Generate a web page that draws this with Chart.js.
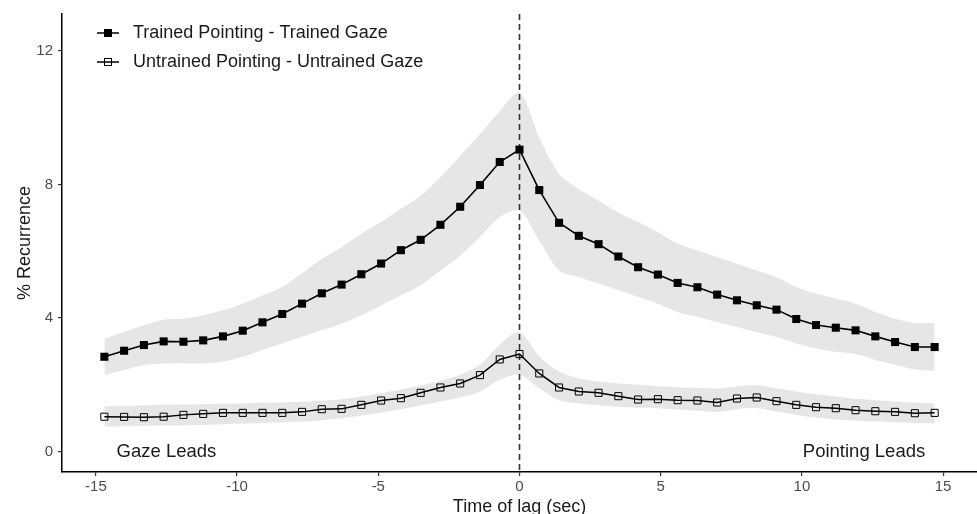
<!DOCTYPE html>
<html>
<head>
<meta charset="utf-8">
<script src="https://cdn.jsdelivr.net/npm/chart.js@4.4.1/dist/chart.umd.min.js"></script>
<style>
    html, body { margin: 0; padding: 0; background: #fff; }
    #wrap { width: 977px; height: 514px; }
</style>
</head>
<body>
<div id="wrap"><canvas id="lagChart" width="977" height="514"></canvas></div>
<script>
// lag (sec), one point every 0.7 s
const lags = [
    -14.7, -14, -13.3, -12.6, -11.9, -11.2, -10.5, -9.8, -9.1, -8.4, -7.7,
    -7, -6.3, -5.6, -4.9, -4.2, -3.5, -2.8, -2.1, -1.4, -0.7,
    0,
    0.7, 1.4, 2.1, 2.8, 3.5, 4.2, 4.9, 5.6, 6.3, 7, 7.7,
    8.4, 9.1, 9.8, 10.5, 11.2, 11.9, 12.6, 13.3, 14, 14.7,
];

const trained = [
    2.84, 3.02, 3.19, 3.30, 3.29, 3.33, 3.45, 3.62, 3.87, 4.12, 4.43,
    4.74, 5.00, 5.31, 5.63, 6.03, 6.34, 6.79, 7.33, 7.98, 8.67,
    9.04,
    7.83, 6.85, 6.46, 6.21, 5.84, 5.52, 5.30, 5.05, 4.92, 4.70,
    4.53, 4.38, 4.25, 3.97, 3.79, 3.71, 3.63, 3.45, 3.28, 3.13, 3.13,
];
const trainedUpper = [
    3.38, 3.58, 3.78, 3.95, 3.98, 4.08, 4.23, 4.43, 4.68, 4.93, 5.33,
    5.77, 6.12, 6.52, 6.87, 7.27, 7.66, 8.21, 8.86, 9.50, 10.20,
    10.75,
    9.40, 8.31, 7.86, 7.51, 7.16, 6.87, 6.57, 6.22, 6.02, 5.82,
    5.62, 5.42, 5.22, 4.93, 4.73, 4.58, 4.43, 4.18, 3.98, 3.85, 3.85,
];
const trainedLower = [
    2.29, 2.44, 2.59, 2.64, 2.64, 2.64, 2.69, 2.84, 3.04, 3.24, 3.43,
    3.63, 3.83, 4.08, 4.38, 4.68, 4.98, 5.42, 5.87, 6.42, 7.02,
    7.21,
    6.32, 5.42, 5.22, 5.03, 4.83, 4.63, 4.43, 4.18, 4.03, 3.88,
    3.73, 3.58, 3.43, 3.24, 3.09, 2.99, 2.92, 2.74, 2.59, 2.46, 2.42,
];

const untrained = [
    1.045, 1.04, 1.03, 1.045, 1.10, 1.13, 1.16, 1.16, 1.16, 1.16, 1.19,
    1.27, 1.28, 1.40, 1.53, 1.60, 1.76, 1.92, 2.04, 2.29, 2.76,
    2.92,
    2.34, 1.92, 1.80, 1.76, 1.66, 1.56, 1.57, 1.54, 1.53, 1.47,
    1.59, 1.62, 1.51, 1.40, 1.33, 1.30, 1.24, 1.21, 1.19, 1.15, 1.16,
];
const untrainedUpper = [
    1.36, 1.37, 1.38, 1.40, 1.41, 1.42, 1.43, 1.44, 1.46, 1.47, 1.49,
    1.52, 1.57, 1.65, 1.75, 1.86, 1.98, 2.12, 2.30, 2.60, 3.20,
    3.58,
    2.85, 2.40, 2.20, 2.10, 2.04, 2.00, 1.96, 1.93, 1.91, 1.89,
    1.95, 1.99, 1.90, 1.80, 1.72, 1.65, 1.58, 1.54, 1.50, 1.46, 1.44,
];
const untrainedLower = [
    0.75, 0.76, 0.77, 0.78, 0.79, 0.80, 0.82, 0.84, 0.86, 0.88, 0.90,
    0.94, 1.00, 1.08, 1.17, 1.27, 1.38, 1.50, 1.62, 1.80, 2.15,
    2.30,
    1.90, 1.54, 1.44, 1.39, 1.34, 1.31, 1.30, 1.26, 1.22, 1.19,
    1.27, 1.30, 1.20, 1.10, 1.02, 0.96, 0.93, 0.90, 0.88, 0.86, 0.85,
];

const seriesNames = ["Trained Pointing - Trained Gaze", "Untrained Pointing - Untrained Gaze"];
const xTicks = [-15, -10, -5, 0, 5, 10, 15];
const yTicks = [0, 4, 8, 12];
const sideLabels = ["Gaze Leads", "Pointing Leads"];

const FONT = "'Liberation Sans', Arial, sans-serif";
const BAND = "#e6e6e6";
const INK = "#000000";
const TICK_TEXT = "#4d4d4d";

const pts = (arr) => lags.map((x, i) => ({ x: x, y: arr[i] }));

function bandSet(arr, fill) {
    return {
        data: pts(arr),
        borderWidth: 0,
        pointRadius: 0,
        backgroundColor: BAND,
        fill: fill,
        order: 2,
        tension: 0.3,
    };
}

// ---- dashed zero line + in-plot labels + legend ----
const decorPlugin = {
    id: "decor",
    beforeDatasetsDraw(chart) {
        const { ctx, chartArea, scales } = chart;
        const x0 = scales.x.getPixelForValue(0);
        ctx.save();
        ctx.strokeStyle = "#333";
        ctx.lineWidth = 1.6;
        ctx.setLineDash([6, 4]);
        ctx.beginPath();
        ctx.moveTo(x0, chartArea.top);
        ctx.lineTo(x0, chartArea.bottom);
        ctx.stroke();
        ctx.restore();
    },
    afterDraw(chart) {
        const { ctx, chartArea, scales } = chart;
        ctx.save();
        ctx.fillStyle = "#1a1a1a";
        ctx.font = "18.5px " + FONT;
        ctx.textBaseline = "middle";
        ctx.textAlign = "center";
        ctx.fillText(sideLabels[0], scales.x.getPixelForValue(-12.5), scales.y.getPixelForValue(0));
        ctx.fillText(sideLabels[1], scales.x.getPixelForValue(12.2), scales.y.getPixelForValue(0));

        // legend
        ctx.font = "18px " + FONT;
        const lx = chartArea.left + 35;
        const ly = chartArea.top + 19;
        seriesNames.forEach((name, i) => {
            const y = ly + i * 29;
            ctx.strokeStyle = INK;
            ctx.lineWidth = 1.5;
            ctx.beginPath();
            ctx.moveTo(lx, y);
            ctx.lineTo(lx + 22, y);
            ctx.stroke();
            if (i === 0) {
                ctx.fillStyle = INK;
                ctx.fillRect(lx + 7, y - 4, 8, 8);
            } else {
                ctx.lineWidth = 1;
                ctx.strokeRect(lx + 7.5, y - 3.5, 7, 7);
            }
            ctx.fillStyle = "#1a1a1a";
            ctx.textAlign = "left";
            ctx.fillText(name, lx + 36, y);
        });
        ctx.restore();
    },
};

new Chart(document.getElementById("lagChart"), {
    type: "line",
    data: {
        datasets: [
            {
                label: seriesNames[0],
                data: pts(trained),
                borderColor: INK,
                borderWidth: 1.6,
                pointStyle: "rect",
                pointRadius: 5.7,
                pointBackgroundColor: INK,
                pointBorderWidth: 0,
                fill: false,
                order: 0,
            },
            {
                label: seriesNames[1],
                data: pts(untrained),
                borderColor: INK,
                borderWidth: 1.5,
                pointStyle: "rect",
                pointRadius: 5,
                pointBackgroundColor: "rgba(0,0,0,0)",
                pointBorderColor: INK,
                pointBorderWidth: 1,
                fill: false,
                order: 0,
            },
            bandSet(trainedUpper, "+1"),
            bandSet(trainedLower, false),
            bandSet(untrainedUpper, "+1"),
            bandSet(untrainedLower, false),
        ],
    },
    options: {
        responsive: false,
        animation: false,
        events: [],
        layout: { autoPadding: false, padding: { top: 13, right: 0, bottom: 0, left: 0 } },
        plugins: {
            legend: { display: false },
            tooltip: { enabled: false },
            filler: { drawTime: "beforeDatasetsDraw" },
        },
        scales: {
            x: {
                type: "linear",
                min: -16.2,
                max: 16.2,
                afterBuildTicks: (s) => { s.ticks = xTicks.map((v) => ({ value: v })); },
                afterFit: (s) => {
                    s.height = 42;
                    s.paddingLeft = 0;
                    s.paddingRight = 0;
                },
                border: { display: true, color: INK, width: 1.5 },
                grid: { display: true, drawOnChartArea: false, drawTicks: true, tickLength: 4, tickColor: "#333", lineWidth: 1.2 },
                ticks: { color: TICK_TEXT, font: { family: FONT, size: 15 }, padding: 2, maxRotation: 0 },
                title: {
                    display: true,
                    text: "Time of lag (sec)",
                    color: "#1a1a1a",
                    font: { family: FONT, size: 18, lineHeight: 1 },
                    padding: { top: 0, bottom: -2 },
                },
            },
            y: {
                type: "linear",
                min: -0.61,
                max: 13.1,
                afterBuildTicks: (s) => { s.ticks = yTicks.map((v) => ({ value: v })); },
                afterFit: (s) => { s.width = 62; },
                border: { display: true, color: INK, width: 1.5 },
                grid: { display: true, drawOnChartArea: false, drawTicks: true, tickLength: 4, tickColor: "#333", lineWidth: 1.2 },
                ticks: { color: TICK_TEXT, font: { family: FONT, size: 15 }, padding: 5 },
                title: {
                    display: true,
                    text: "% Recurrence",
                    color: "#1a1a1a",
                    font: { family: FONT, size: 18, lineHeight: 1 },
                    padding: { top: 16, bottom: 0 },
                },
            },
        },
    },
    plugins: [decorPlugin],
});
</script>
</body>
</html>
